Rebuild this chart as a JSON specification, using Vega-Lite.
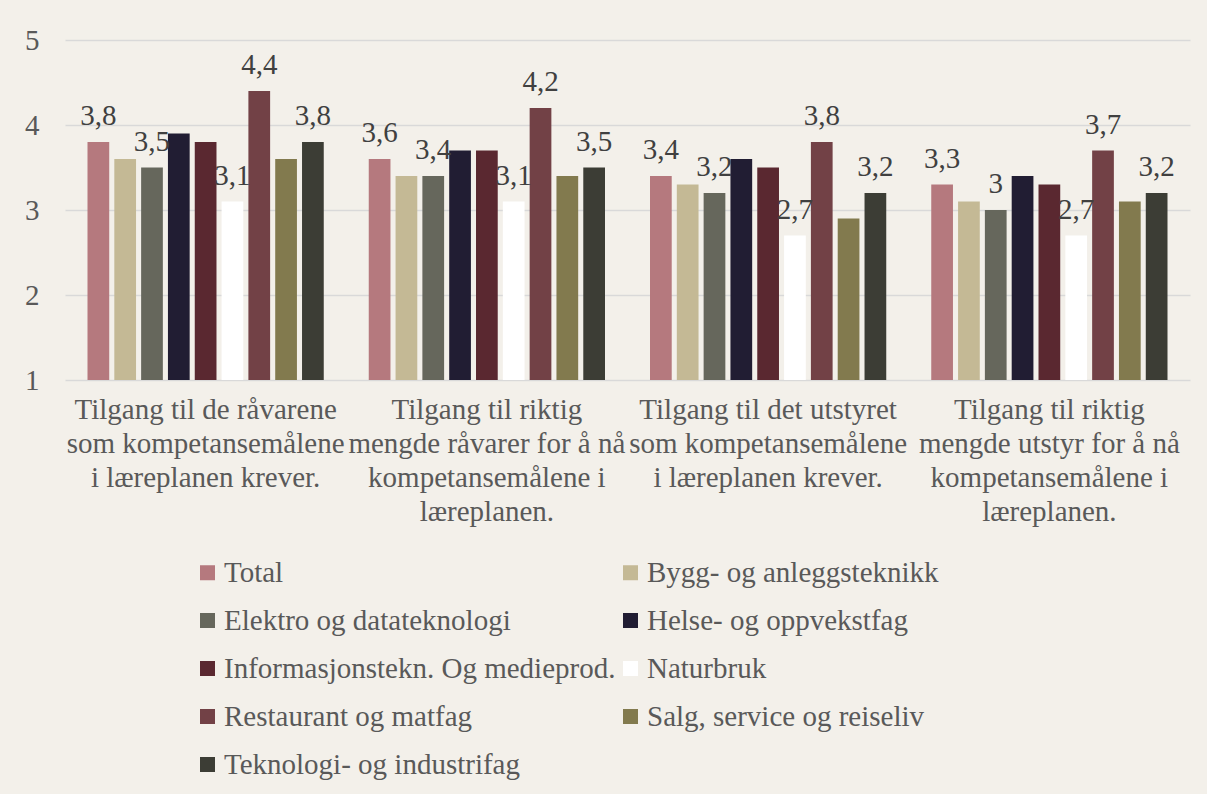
{
  "$schema": "https://vega.github.io/schema/vega-lite/v6.json",
  "width": 1125,
  "height": 340,
  "autosize": "none",
  "padding": {"left": 65, "top": 40, "right": 17, "bottom": 414},
  "background": "#F3F0EA",
  "config": {
    "view": {"stroke": null},
    "font": "'Liberation Serif', 'Times New Roman', serif",
    "locale": {"number": {"decimal": ",", "thousands": " ", "grouping": [3], "currency": ["", " kr"]}}
  },
  "data": {
    "values": [
      {"cat": "Tilgang til de råvarene\nsom kompetansemålene\ni læreplanen krever.", "series": "Total", "value": 3.8, "lab": true},
      {"cat": "Tilgang til de råvarene\nsom kompetansemålene\ni læreplanen krever.", "series": "Bygg- og anleggsteknikk", "value": 3.6, "lab": false},
      {"cat": "Tilgang til de råvarene\nsom kompetansemålene\ni læreplanen krever.", "series": "Elektro og datateknologi", "value": 3.5, "lab": true},
      {"cat": "Tilgang til de råvarene\nsom kompetansemålene\ni læreplanen krever.", "series": "Helse- og oppvekstfag", "value": 3.9, "lab": false},
      {"cat": "Tilgang til de råvarene\nsom kompetansemålene\ni læreplanen krever.", "series": "Informasjonstekn. Og medieprod.", "value": 3.8, "lab": false},
      {"cat": "Tilgang til de råvarene\nsom kompetansemålene\ni læreplanen krever.", "series": "Naturbruk", "value": 3.1, "lab": true},
      {"cat": "Tilgang til de råvarene\nsom kompetansemålene\ni læreplanen krever.", "series": "Restaurant og matfag", "value": 4.4, "lab": true},
      {"cat": "Tilgang til de råvarene\nsom kompetansemålene\ni læreplanen krever.", "series": "Salg, service og reiseliv", "value": 3.6, "lab": false},
      {"cat": "Tilgang til de råvarene\nsom kompetansemålene\ni læreplanen krever.", "series": "Teknologi- og industrifag", "value": 3.8, "lab": true},
      {"cat": "Tilgang til riktig\nmengde råvarer for å nå\nkompetansemålene i\nlæreplanen.", "series": "Total", "value": 3.6, "lab": true},
      {"cat": "Tilgang til riktig\nmengde råvarer for å nå\nkompetansemålene i\nlæreplanen.", "series": "Bygg- og anleggsteknikk", "value": 3.4, "lab": false},
      {"cat": "Tilgang til riktig\nmengde råvarer for å nå\nkompetansemålene i\nlæreplanen.", "series": "Elektro og datateknologi", "value": 3.4, "lab": true},
      {"cat": "Tilgang til riktig\nmengde råvarer for å nå\nkompetansemålene i\nlæreplanen.", "series": "Helse- og oppvekstfag", "value": 3.7, "lab": false},
      {"cat": "Tilgang til riktig\nmengde råvarer for å nå\nkompetansemålene i\nlæreplanen.", "series": "Informasjonstekn. Og medieprod.", "value": 3.7, "lab": false},
      {"cat": "Tilgang til riktig\nmengde råvarer for å nå\nkompetansemålene i\nlæreplanen.", "series": "Naturbruk", "value": 3.1, "lab": true},
      {"cat": "Tilgang til riktig\nmengde råvarer for å nå\nkompetansemålene i\nlæreplanen.", "series": "Restaurant og matfag", "value": 4.2, "lab": true},
      {"cat": "Tilgang til riktig\nmengde råvarer for å nå\nkompetansemålene i\nlæreplanen.", "series": "Salg, service og reiseliv", "value": 3.4, "lab": false},
      {"cat": "Tilgang til riktig\nmengde råvarer for å nå\nkompetansemålene i\nlæreplanen.", "series": "Teknologi- og industrifag", "value": 3.5, "lab": true},
      {"cat": "Tilgang til det utstyret\nsom kompetansemålene\ni læreplanen krever.", "series": "Total", "value": 3.4, "lab": true},
      {"cat": "Tilgang til det utstyret\nsom kompetansemålene\ni læreplanen krever.", "series": "Bygg- og anleggsteknikk", "value": 3.3, "lab": false},
      {"cat": "Tilgang til det utstyret\nsom kompetansemålene\ni læreplanen krever.", "series": "Elektro og datateknologi", "value": 3.2, "lab": true},
      {"cat": "Tilgang til det utstyret\nsom kompetansemålene\ni læreplanen krever.", "series": "Helse- og oppvekstfag", "value": 3.6, "lab": false},
      {"cat": "Tilgang til det utstyret\nsom kompetansemålene\ni læreplanen krever.", "series": "Informasjonstekn. Og medieprod.", "value": 3.5, "lab": false},
      {"cat": "Tilgang til det utstyret\nsom kompetansemålene\ni læreplanen krever.", "series": "Naturbruk", "value": 2.7, "lab": true},
      {"cat": "Tilgang til det utstyret\nsom kompetansemålene\ni læreplanen krever.", "series": "Restaurant og matfag", "value": 3.8, "lab": true},
      {"cat": "Tilgang til det utstyret\nsom kompetansemålene\ni læreplanen krever.", "series": "Salg, service og reiseliv", "value": 2.9, "lab": false},
      {"cat": "Tilgang til det utstyret\nsom kompetansemålene\ni læreplanen krever.", "series": "Teknologi- og industrifag", "value": 3.2, "lab": true},
      {"cat": "Tilgang til riktig\nmengde utstyr for å nå\nkompetansemålene i\nlæreplanen.", "series": "Total", "value": 3.3, "lab": true},
      {"cat": "Tilgang til riktig\nmengde utstyr for å nå\nkompetansemålene i\nlæreplanen.", "series": "Bygg- og anleggsteknikk", "value": 3.1, "lab": false},
      {"cat": "Tilgang til riktig\nmengde utstyr for å nå\nkompetansemålene i\nlæreplanen.", "series": "Elektro og datateknologi", "value": 3.0, "lab": true},
      {"cat": "Tilgang til riktig\nmengde utstyr for å nå\nkompetansemålene i\nlæreplanen.", "series": "Helse- og oppvekstfag", "value": 3.4, "lab": false},
      {"cat": "Tilgang til riktig\nmengde utstyr for å nå\nkompetansemålene i\nlæreplanen.", "series": "Informasjonstekn. Og medieprod.", "value": 3.3, "lab": false},
      {"cat": "Tilgang til riktig\nmengde utstyr for å nå\nkompetansemålene i\nlæreplanen.", "series": "Naturbruk", "value": 2.7, "lab": true},
      {"cat": "Tilgang til riktig\nmengde utstyr for å nå\nkompetansemålene i\nlæreplanen.", "series": "Restaurant og matfag", "value": 3.7, "lab": true},
      {"cat": "Tilgang til riktig\nmengde utstyr for å nå\nkompetansemålene i\nlæreplanen.", "series": "Salg, service og reiseliv", "value": 3.1, "lab": false},
      {"cat": "Tilgang til riktig\nmengde utstyr for å nå\nkompetansemålene i\nlæreplanen.", "series": "Teknologi- og industrifag", "value": 3.2, "lab": true}
    ]
  },
  "encoding": {
    "x": {
      "field": "cat", "type": "nominal", "sort": null,
      "scale": {"paddingInner": 0.16, "paddingOuter": 0.08},
      "axis": {
        "title": null, "labelAngle": 0, "domain": false, "ticks": false,
        "labelExpr": "split(datum.label, '\\n')",
        "labelFont": "'Liberation Serif', 'Times New Roman', serif", "labelFontSize": 29, "labelColor": "#595959",
        "labelLineHeight": 34, "labelPadding": 15, "labelLimit": 400
      }
    },
    "xOffset": {
      "field": "series", "type": "nominal", "sort": null,
      "scale": {"paddingInner": 0.19, "paddingOuter": 0}
    },
    "y": {
      "field": "value", "type": "quantitative",
      "scale": {"domain": [1, 5], "nice": false, "zero": false},
      "axis": {
        "title": null, "values": [1, 2, 3, 4, 5], "format": "d",
        "domain": false, "ticks": false,
        "gridColor": "#D9D9D9", "gridWidth": 1.5,
        "labelFont": "'Liberation Serif', 'Times New Roman', serif", "labelFontSize": 29, "labelColor": "#595959",
        "labelPadding": 26
      }
    }
  },
  "layer": [
    {
      "mark": {"type": "bar"},
      "encoding": {
        "y2": {"datum": 1},
        "color": {
          "field": "series", "type": "nominal", "sort": null,
          "scale": {
            "domain": ["Total", "Bygg- og anleggsteknikk", "Elektro og datateknologi", "Helse- og oppvekstfag", "Informasjonstekn. Og medieprod.", "Naturbruk", "Restaurant og matfag", "Salg, service og reiseliv", "Teknologi- og industrifag"],
            "range": ["#B5797E", "#C4B995", "#66675C", "#211D33", "#5A2830", "#FFFFFF", "#724146", "#827A4E", "#3C3D35"]
          },
          "legend": {
            "title": null, "orient": "none", "legendX": 128, "legendY": 518,
            "direction": "horizontal", "columns": 2, "columnPadding": 0, "rowPadding": 18,
            "symbolType": "square", "symbolSize": 225, "symbolStrokeWidth": 0,
            "labelFont": "'Liberation Serif', 'Times New Roman', serif", "labelFontSize": 29, "labelColor": "#595959",
            "labelOffset": 2, "labelLimit": 600
          }
        }
      }
    },
    {
      "transform": [{"filter": "datum.lab"}],
      "mark": {"type": "text", "baseline": "bottom", "dy": -11, "font": "'Liberation Serif', 'Times New Roman', serif", "fontSize": 29, "color": "#404040"},
      "encoding": {
        "text": {"field": "value", "type": "quantitative", "format": ".1~f"}
      }
    }
  ]
}
